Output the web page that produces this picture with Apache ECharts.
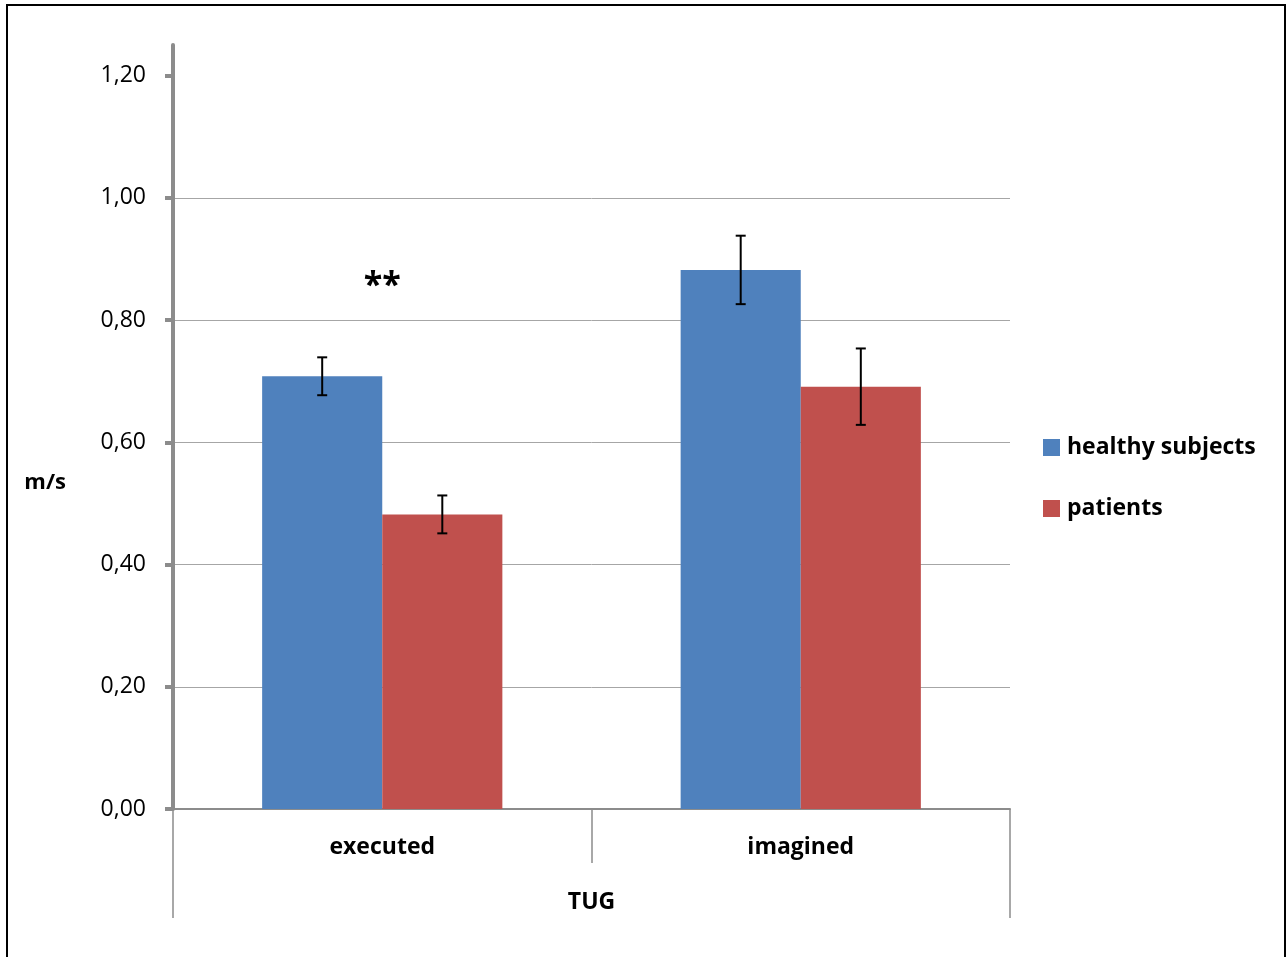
<!DOCTYPE html>
<html><head><meta charset="utf-8">
<script src="https://cdn.jsdelivr.net/npm/echarts@6/dist/echarts.min.js"></script>
<style>html,body{margin:0;padding:0;background:#fff}#c{width:1287px;height:957px}</style>
</head><body><div id="c"></div>
<script>
const categories = ['executed', 'imagined'];
const groupLabel = ['TUG'];
const seriesNames = ['healthy subjects', 'patients'];
const healthy = [0.708, 0.882];
const healthyErr = [0.031, 0.056];
const patients = [0.482, 0.691];
const patientsErr = [0.031, 0.0625];
const yTicks = [0, 0.2, 0.4, 0.6, 0.8, 1.0, 1.2];
const yName = 'm/s';
const annotation = [['executed', 0.855, '**']];

const FONT = 'Open Sans';
const GRAY = '#8c8c8c';
const CAT_GAP = 0.426;

const chart = echarts.init(document.getElementById('c'));

function errSeries(name, vals, errs, sign) {
  return {
    type: 'custom', name: name + ' err', xAxisIndex: 0, yAxisIndex: 0, z: 10, silent: true,
    data: vals.map((v, i) => [i, v, errs[i]]),
    renderItem: function (params, api) {
      const i = api.value(0), v = api.value(1), e = api.value(2);
      const band = api.size([1, 0])[0];
      const bw = band * (1 - CAT_GAP) / 2;
      const c = api.coord([i, v]);
      const x = c[0] + sign * bw / 2;
      const yH = api.coord([i, v + e])[1];
      const yL = api.coord([i, v - e])[1];
      const st = { stroke: '#000', lineWidth: 2 };
      return { type: 'group', children: [
        { type: 'line', shape: { x1: x, y1: yH, x2: x, y2: yL }, style: st },
        { type: 'line', shape: { x1: x - 5, y1: yH, x2: x + 5, y2: yH }, style: st },
        { type: 'line', shape: { x1: x - 5, y1: yL, x2: x + 5, y2: yL }, style: st }
      ]};
    }
  };
}

const option = {
  animation: false,
  backgroundColor: '#fff',
  grid: { left: 173, right: 277, top: 45, bottom: 148 },
  legend: {
    orient: 'vertical', left: 1043, top: 436, itemGap: 38, padding: 0,
    itemWidth: 17, itemHeight: 17, icon: 'rect',
    data: seriesNames,
    textStyle: { fontFamily: FONT, fontSize: 23, fontWeight: 'bold', color: '#000', padding: [0, 0, 0, 2] }
  },
  xAxis: [
    {
      type: 'category', data: categories, position: 'bottom',
      axisLine: { show: true, lineStyle: { color: GRAY, width: 2 } },
      axisTick: { show: true, length: 54, lineStyle: { color: GRAY, width: 1.5 } },
      axisLabel: { margin: 27, fontFamily: FONT, fontSize: 23, fontWeight: 'bold', color: '#000' },
      splitLine: { show: false }
    },
    {
      type: 'category', data: groupLabel, position: 'bottom', gridIndex: 0,
      axisLine: { show: false },
      axisTick: { show: true, length: 109, lineStyle: { color: GRAY, width: 1.5 } },
      axisLabel: { margin: 82, fontFamily: FONT, fontSize: 23, fontWeight: 'bold', color: '#000' },
      splitLine: { show: false }
    }
  ],
  yAxis: {
    type: 'value', min: 0, max: 1.25, interval: 0.2,
    name: '{gap|}\n{t|' + yName + '}', nameLocation: 'middle', nameRotate: 0, nameGap: 107,
    nameTextStyle: { color: '#000', align: 'right',
      rich: {
        gap: { lineHeight: 112, fontSize: 10 },
        t: { fontFamily: FONT, fontSize: 22, fontWeight: 'bold', color: '#000', lineHeight: 28 }
      } },
    axisLine: { show: true, lineStyle: { color: GRAY, width: 4 } },
    axisTick: { show: true, inside: false, length: 8, customValues: yTicks, lineStyle: { color: GRAY, width: 4 } },
    axisLabel: { margin: 27, customValues: yTicks, fontFamily: FONT, fontSize: 23, color: '#000',
      formatter: v => v.toFixed(2).replace('.', ',') },
    splitLine: { show: true, showMaxLine: false, lineStyle: { color: '#a6a6a6', width: 1 } }
  },
  series: [
    { type: 'bar', name: seriesNames[0], data: healthy, barGap: '0%', barCategoryGap: (CAT_GAP * 100) + '%',
      itemStyle: { color: '#4f81bd' }, z: 2 },
    { type: 'bar', name: seriesNames[1], data: patients, barGap: '0%', barCategoryGap: (CAT_GAP * 100) + '%',
      itemStyle: { color: '#c0504d' }, z: 2 },
    errSeries(seriesNames[0], healthy, healthyErr, -1),
    errSeries(seriesNames[1], patients, patientsErr, 1),
    {
      type: 'custom', name: 'annotation', silent: true, z: 11,
      data: annotation.map(a => [categories.indexOf(a[0]), a[1], a[2]]),
      renderItem: function (params, api) {
        const c = api.coord([api.value(0), api.value(1)]);
        return { type: 'text', x: c[0], y: c[1],
          style: { text: annotation[params.dataIndex][2], fontFamily: FONT, fontSize: 34, fontWeight: 'bold',
            fill: '#000', align: 'center', verticalAlign: 'middle' } };
      }
    }
  ],
  graphic: [
    { type: 'rect', shape: { x: 7, y: 5, width: 1278, height: 960 },
      style: { fill: 'none', stroke: '#000', lineWidth: 2 }, silent: true, z: 100 }
  ]
};
chart.setOption(option);
</script></body></html>
